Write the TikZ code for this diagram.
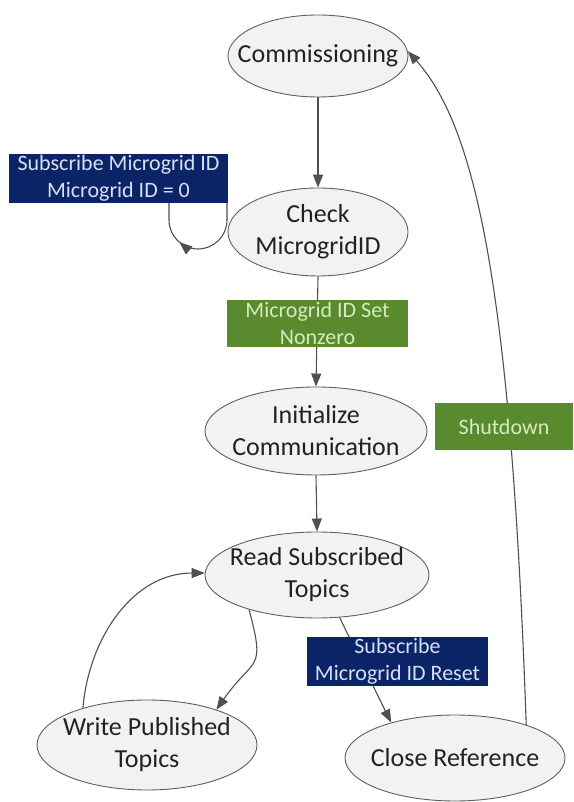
\documentclass[tikz,border=0pt]{standalone}
\usepackage{fontspec}
\setmainfont{Carlito}
\usetikzlibrary{shapes.geometric,arrows.meta,decorations.markings}
\definecolor{navy}{HTML}{0B2468}
\definecolor{bluetxt}{HTML}{D6E0F2}
\definecolor{grn}{HTML}{5A8A2E}
\definecolor{grntxt}{HTML}{D4EBC0}
\definecolor{ellfill}{HTML}{F2F2F2}
\definecolor{ellborder}{HTML}{5F5F5F}
\definecolor{conncol}{HTML}{505050}
\definecolor{txtdark}{HTML}{222222}
\begin{document}
\begin{tikzpicture}[x=1pt,y=1pt,
  state/.style={ellipse, draw=ellborder, fill=ellfill, line width=0.9pt, inner sep=0pt},
  stxt/.style={font=\fontsize{26}{32}\selectfont, text=txtdark, align=center},
  tip/.style={-{Triangle[length=13pt,width=10pt]}},
  conn/.style={draw=conncol, line width=1.1pt, tip},
  lbl/.style={rectangle, inner sep=0pt, align=center, font=\fontsize{22}{26.7}\selectfont},
  bluebox/.style={lbl, fill=navy, text=bluetxt},
  greenbox/.style={lbl, fill=grn, text=grntxt}]
\useasboundingbox (0,0) rectangle (573,802);
% states
\node[state, minimum width=180pt, minimum height=82pt, label={[stxt]center:Commissioning}] (comm) at (318,746) {};
\node[state, minimum width=180pt, minimum height=88pt, label={[stxt]center:{Check\\MicrogridID}}] (check) at (318,570) {};
\node[state, minimum width=222pt, minimum height=88pt, label={[stxt]center:{Initialize\\Communication}}] (init) at (316,371) {};
\node[state, minimum width=224pt, minimum height=86pt, label={[stxt]center:{Read Subscribed\\Topics}}] (read) at (317,227) {};
\node[state, minimum width=220pt, minimum height=90pt, label={[stxt]center:{Write Published\\Topics}}] (write) at (147,57) {};
\node[state, minimum width=220pt, minimum height=86pt, label={[stxt]center:Close Reference}] (close) at (455,44) {};
% connectors
\draw[conn] (comm.south) -- (check.north);
\draw[conn] (check.south) -- (init.north);
\draw[conn] (init.south) -- (read.north);
\draw[conn] (read.-62) -- (close.151);
\draw[conn] (read.207) to[out=-75,in=55,looseness=1.6] (write.27);
\draw[conn] (write.150) to[out=85,in=180] (read.179);
\draw[conn] (close.25) .. controls +(92:425) and +(-48:105) .. (comm.3);
% self loop on Check MicrogridID
\coordinate (loopR) at (227,600);
\coordinate (loopL) at (169,600);
\draw[draw=conncol, line width=1.1pt,
  decoration={markings, mark=at position 0.66 with {\arrow{Triangle[length=13pt,width=10pt]}}},
  postaction={decorate}]
  (loopR) -- ++(0,-18) arc[start angle=0, end angle=-180, radius=29] -- (loopL);
% labels
\node[bluebox, minimum width=219pt, minimum height=49pt] (lsub) at (118.5,623.5) {Subscribe Microgrid ID\\Microgrid ID = 0};
\node[greenbox, minimum width=181pt, minimum height=47pt] (lset) at (317.5,478.5) {Microgrid ID Set\\Nonzero};
\node[greenbox, minimum width=138pt, minimum height=47pt] (lshut) at (504,375.5) {Shutdown};
\node[bluebox, minimum width=181pt, minimum height=49pt] (lreset) at (397.5,140.5) {Subscribe\\Microgrid ID Reset};
\end{tikzpicture}
\end{document}
